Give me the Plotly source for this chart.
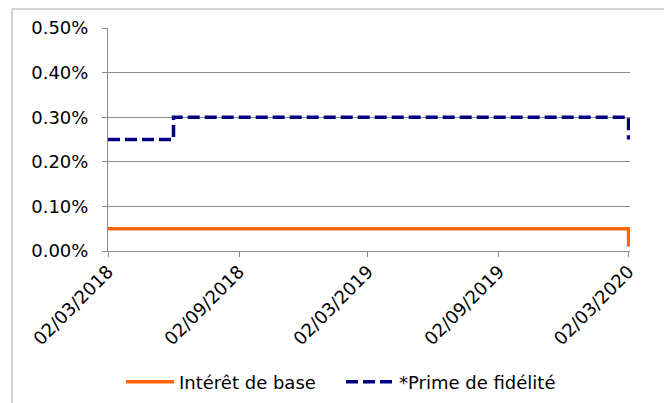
import plotly.graph_objects as go

# Data
base_dates = ["2018-03-02", "2020-03-02", "2020-03-02"]
base_rates = [0.0005, 0.0005, 0.0001]
prime_dates = ["2018-03-02", "2018-06-02", "2020-03-02", "2020-03-02"]
prime_rates = [0.0025, 0.0030, 0.0030, 0.0025]
tick_dates = ["2018-03-02", "2018-09-02", "2019-03-02", "2019-09-02", "2020-03-02"]
tick_labels = ["02/03/2018", "02/09/2018", "02/03/2019", "02/09/2019", "02/03/2020"]
series_names = ["Intérêt de base", "*Prime de fidélité"]

W, H = 664, 403
L, R, T, B = 108, 34, 28, 152
pw = W - L - R
ph = H - T - B
FONT = "DejaVu Sans"
GRID = "#8c8c8c"
FS = 18

fig = go.Figure()
fig.add_trace(go.Scatter(
    x=base_dates, y=base_rates, name=series_names[0], mode="lines",
    line=dict(color="#FF6600", width=3.5, shape="hv"),
))
fig.add_trace(go.Scatter(
    x=prime_dates, y=prime_rates, name=series_names[1], mode="lines",
    line=dict(color="#000080", width=3.5, shape="hv", dash="12px,5px"),
))

# outer chart border (left and top visible)
bx = (12 - L) / pw
by = (H - B - 9) / ph
fig.add_shape(type="line", xref="paper", yref="paper", x0=bx, x1=bx, y0=by, y1=(H - B - 410) / ph,
              line=dict(color="#a6a6a6", width=1))
fig.add_shape(type="line", xref="paper", yref="paper", x0=bx, x1=(700 - L) / pw, y0=by, y1=by,
              line=dict(color="#a6a6a6", width=1))

fig.update_layout(
    width=W, height=H,
    margin=dict(l=L, r=R, t=T, b=B),
    paper_bgcolor="white", plot_bgcolor="white",
    font=dict(family=FONT, size=FS, color="#000000"),
    showlegend=True,
    legend=dict(orientation="h", xref="container", yref="container",
                x=121 / W, xanchor="left", y=1 - 382 / H, yanchor="middle",
                itemwidth=48, entrywidth=157, entrywidthmode="pixels",
                font=dict(size=FS), bgcolor="rgba(0,0,0,0)"),
    xaxis=dict(
        type="date", range=["2018-03-02", "2020-03-04"],
        tickvals=tick_dates, ticktext=tick_labels, tickangle=-45,
        showgrid=False, showline=True, linecolor=GRID, linewidth=1,
        ticks="outside", ticklen=5, tickcolor=GRID, zeroline=False,
        tickfont=dict(size=FS), ticklabelstandoff=-3,
    ),
    yaxis=dict(
        range=[0, 0.005], dtick=0.001, tickformat=".2%",
        showgrid=True, gridcolor=GRID, gridwidth=1,
        showline=True, linecolor=GRID, linewidth=1,
        ticks="outside", ticklen=5, tickcolor=GRID, zeroline=False,
        tickfont=dict(size=FS), ticklabelstandoff=10,
    ),
)

fig.write_html("out.html", config={"displayModeBar": False},
               post_script="document.body.style.margin='0';")
